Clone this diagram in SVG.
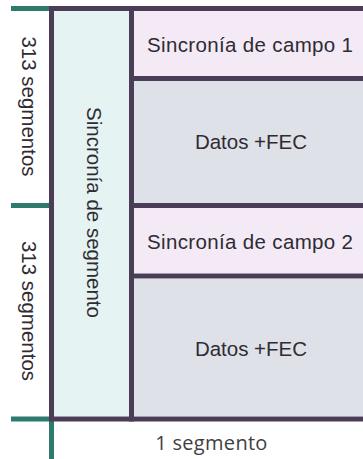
<svg xmlns="http://www.w3.org/2000/svg" width="363" height="459" viewBox="0 0 363 459">
<style>
.t{font-family:"Liberation Sans",Arial,sans-serif;font-size:20.5px;fill:#2f2b33;text-anchor:middle}
.dk{stroke:#4b3d58;stroke-width:5;fill:none}
.tl{stroke:#2e7b6e;stroke-width:5;fill:none}
.seg{fill:#e6f3f3}
.camp{fill:#f3eaf6}
.dat{fill:#dfe1e9}
.foot{font-family:"Open Sans","Noto Sans",sans-serif;font-size:20px;fill:#3f3f3f;text-anchor:middle;letter-spacing:0.3px}
</style>
<rect width="363" height="459" fill="#ffffff"/>
<g id="sinc-segmento">
<rect class="seg" x="54" y="11" width="75" height="405"/>
<text class="t" transform="translate(87,212.5) rotate(90)">Sincronía de segmento</text>
</g>
<g id="sinc-campo-1">
<rect class="camp" x="134" y="11" width="229" height="65"/>
<text class="t" x="250" y="52.3" font-size="21" textLength="206" lengthAdjust="spacing">Sincronía de campo 1</text>
</g>
<g id="datos-1">
<rect class="dat" x="134" y="81" width="229" height="122"/>
<text class="t" x="251" y="149" font-size="21">Datos +FEC</text>
</g>
<g id="sinc-campo-2">
<rect class="camp" x="134" y="208" width="229" height="65"/>
<text class="t" x="250" y="249" font-size="21" textLength="206" lengthAdjust="spacing">Sincronía de campo 2</text>
</g>
<g id="datos-2">
<rect class="dat" x="134" y="279" width="229" height="137"/>
<text class="t" x="251" y="355.7" font-size="21">Datos +FEC</text>
</g>
<g id="label-313-a">
<text class="t" transform="translate(21.5,106.5) rotate(90)">313 segmentos</text>
</g>
<g id="label-313-b">
<text class="t" transform="translate(21.5,311) rotate(90)">313 segmentos</text>
</g>
<g id="label-1-segmento">
<text class="foot" x="211.5" y="449.5">1 segmento</text>
</g>
<g id="connectors">
<line class="tl" x1="11" y1="8.5" x2="52" y2="8.5"/>
<line class="tl" x1="11" y1="205.5" x2="52" y2="205.5"/>
<line class="tl" x1="11" y1="419" x2="52" y2="419"/>
<line class="tl" x1="51.5" y1="419" x2="51.5" y2="459"/>
<line class="dk" x1="49" y1="8.5" x2="363" y2="8.5"/>
<line class="dk" x1="51.5" y1="6" x2="51.5" y2="421.5"/>
<line class="dk" x1="131.5" y1="6" x2="131.5" y2="421.5"/>
<line class="dk" x1="131.5" y1="78.5" x2="363" y2="78.5"/>
<line class="dk" x1="131.5" y1="205.5" x2="363" y2="205.5"/>
<line class="dk" x1="131.5" y1="276" x2="363" y2="276"/>
<line class="dk" x1="54" y1="419" x2="363" y2="419"/>
</g>
</svg>
